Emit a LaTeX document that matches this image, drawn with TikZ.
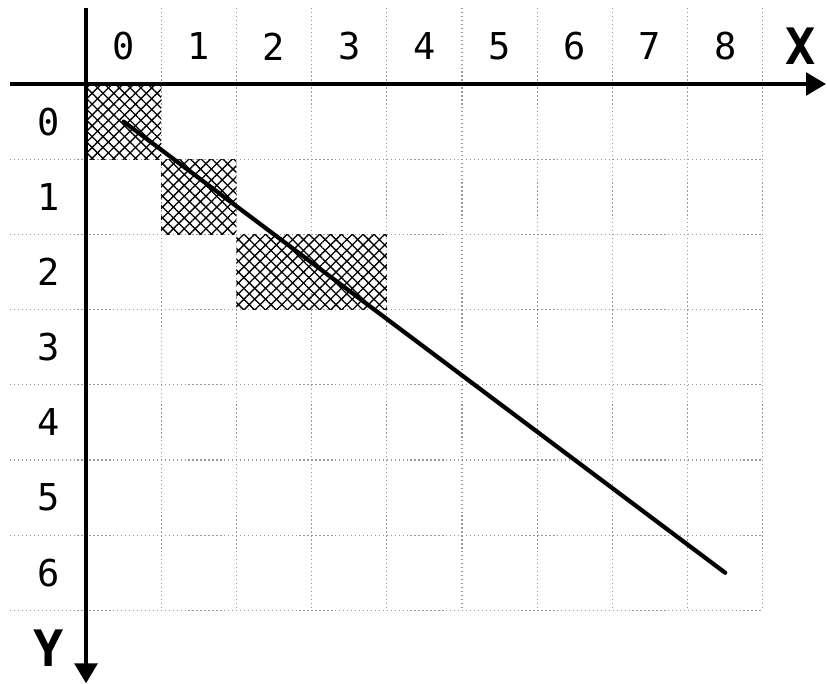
\documentclass[tikz,border=0pt]{standalone}
\usepackage{fontspec}
\setmonofont{DejaVu Sans Mono}
\usetikzlibrary{patterns.meta,arrows.meta}
\begin{document}
\begin{tikzpicture}
  [x=1cm,y=-1cm,every node/.style={font=\ttfamily\fontsize{14}{14}\selectfont,inner sep=0pt},
   axis/.style={line width=1.5pt,-{Triangle[length=7.5pt,width=8.5pt]}},
   gridline/.style={gray!80,densely dotted,line width=0.5pt},
   hatchne/.style={pattern={Lines[angle=45,distance=2.9pt,line width=0.5pt]}},
   hatchnw/.style={pattern={Lines[angle=-45,distance=2.9pt,line width=0.5pt]}},
   axislabel/.style={font=\ttfamily\bfseries\fontsize{19}{19}\selectfont}]
  \useasboundingbox (-1.144,-1.117) rectangle (9.854,7.979);

  \foreach \r in {1,...,7}
    \draw[gridline] (-1.01,\r) -- (9,\r);
  \foreach \c in {1,...,9}
    \draw[gridline] (\c,-1.01) -- (\c,7);

  \foreach \x/\y/\w in {0/0/1, 1/1/1, 2/2/2} {
    \fill[hatchne] (\x,\y) rectangle ++(\w,1);
    \fill[hatchnw] (\x,\y) rectangle ++(\w,1);
  }

  \coordinate (xstart) at (-1.01,0);
  \coordinate (xend) at (9.84,0);
  \coordinate (ystart) at (0,-1.01);
  \coordinate (yend) at (0,7.97);
  \draw[axis] (xstart) -- (xend);
  \draw[axis] (ystart) -- (yend);

  \coordinate (p0) at (0.5,0.5);
  \coordinate (p1) at (8.5,6.5);
  \draw[line width=1.6pt,line cap=round] (p0) -- (p1);

  \foreach \i in {0,...,8}
    \node (c\i) at (\i+0.5,-0.5) {\i};
  \foreach \j in {0,...,6}
    \node (r\j) at (-0.5,\j+0.5) {\j};
  \node[axislabel] (xlab) at (9.5,-0.5) {X};
  \node[axislabel] (ylab) at (-0.5,7.5) {Y};

 \end{tikzpicture}
\end{document}
